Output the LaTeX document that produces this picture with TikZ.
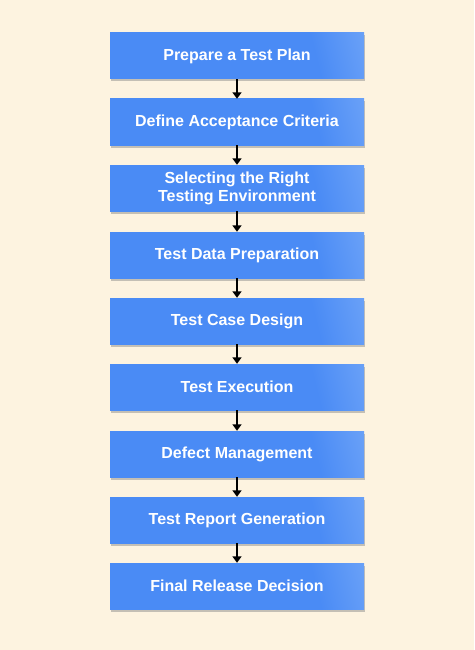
\documentclass[tikz,border=0pt]{standalone}
\usepackage{fontspec}
\setmainfont{Liberation Sans}
\usetikzlibrary{arrows.meta,shadows}
\definecolor{bgcream}{HTML}{FDF3E0}
\definecolor{boxblue}{HTML}{4A8BF5}
\definecolor{boxlight}{HTML}{9CC3FB}
\pgfdeclareverticalshading{boxshade}{100bp}{color(0bp)=(boxblue); color(68bp)=(boxblue); color(100bp)=(boxlight)}

\begin{document}
\begin{tikzpicture}[x=1pt,y=1pt,
  stepbox/.style={shading=boxshade,shading angle=-76,minimum width=254pt,minimum height=46pt,
    inner sep=0pt,text=white,font=\fontsize{16}{18}\bfseries,align=center,
    drop shadow={shadow xshift=0.5pt,shadow yshift=-2.5pt,fill=black!45,opacity=.5}},
  flow/.style={-{Triangle[length=6.5pt,width=9pt]},line width=1.6pt,black}]
\useasboundingbox[fill=bgcream] (0,0) rectangle (474,-650);
\foreach \y/\n/\t in {56/s1/Prepare a Test Plan, 122/s2/Define Acceptance Criteria,
  188/s3/{Selecting the Right\\Testing Environment}, 255/s4/Test Data Preparation,
  321/s5/Test Case Design, 387/s6/Test Execution, 454/s7/Defect Management,
  520/s8/Test Report Generation, 586/s9/Final Release Decision}
  \node[stepbox] (\n) at (237,-\y) {\t};
\foreach \s/\t in {s1/s2, s2/s3, s3/s4, s4/s5, s5/s6, s6/s7, s7/s8, s8/s9}
  \draw[flow] (\s) -- (\t);

\end{tikzpicture}
\end{document}
